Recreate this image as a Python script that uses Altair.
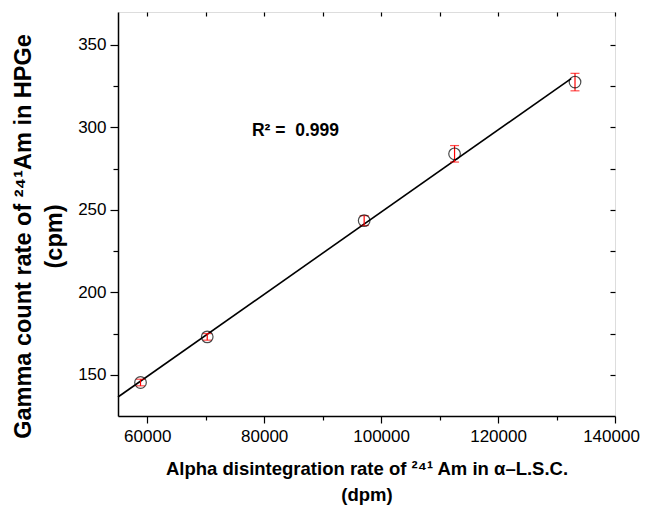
import altair as alt
import pandas as pd

dpm = [58850, 70260, 97100, 112560, 133160]
cpm = [145.3, 173.0, 243.5, 284.0, 327.5]
err = [2.0, 2.0, 3.0, 5.0, 5.3]

r2_label = ["R² =\u00a0\u00a00.999"]
r2_x = [77900]
r2_y = [294.5]

x_ticks = [60000, 70000, 80000, 90000, 100000, 110000, 120000, 130000, 140000]
y_ticks = [150, 175, 200, 225, 250, 275, 300, 325, 350]

df = pd.DataFrame({"dpm": dpm, "cpm": cpm, "err": err})
df["lo"] = df["cpm"] - df["err"]
df["hi"] = df["cpm"] + df["err"]
txt = pd.DataFrame({"dpm": r2_x, "cpm": r2_y, "label": r2_label})

FONT = "Liberation Sans"
xs = alt.Scale(domain=[55000, 140000], nice=False, zero=False)
ys = alt.Scale(domain=[125, 370], nice=False, zero=False)

base = alt.Chart(df)

line = base.transform_regression("dpm", "cpm", extent=[55000, 132500]).mark_line(
    color="black", strokeWidth=1.6
).encode(
    x=alt.X("dpm:Q", scale=xs, axis=alt.Axis(
        orient="bottom", values=x_ticks, format="d",
        labelExpr="datum.value % 20000 == 0 ? datum.label : ''",
        labelOverlap=False, labelFlush=False,
        labelOffset={"condition": {"test": "datum.value == 140000", "value": -4}, "value": 0},
        tickSize={"condition": {"test": "datum.value % 20000 == 0", "value": 7}, "value": 4},
        title=["Alpha disintegration rate of ²⁴¹ Am in α–L.S.C.", "(dpm)"],
        titleFontSize=18.5, titleFontWeight="bold", titleFont=FONT, titleLineHeight=26,
        titlePadding=15, labelFontSize=17, labelFont=FONT, labelPadding=5,
        grid=False, domainColor="black", tickColor="black", domainWidth=1.5, tickWidth=1.2,
        labelColor="black", titleColor="black")),
    y=alt.Y("cpm:Q", scale=ys, axis=alt.Axis(
        orient="left", values=y_ticks, format="d",
        labelExpr="datum.value % 50 == 0 ? datum.label : ''",
        labelOverlap=False, labelFlush=False,
        tickSize={"condition": {"test": "datum.value % 50 == 0", "value": 8}, "value": 5},
        title=["Gamma count rate of ²⁴¹Am in HPGe", "(cpm)"],
        titleFontSize=23.5, titleFontWeight="bold", titleFont=FONT, titleLineHeight=31,
        titlePadding=11, titleY=224, labelFontSize=17, labelFont=FONT, labelPadding=4,
        grid=False, domainColor="black", tickColor="black", domainWidth=1.5, tickWidth=1.2,
        labelColor="black", titleColor="black")),
)

bars = base.mark_errorbar(ticks={"size": 9, "color": "red", "thickness": 1.2}, color="red", thickness=1.2).encode(
    x=alt.X("dpm:Q", scale=xs, axis=None),
    y=alt.Y("lo:Q", scale=ys, axis=None, title=None),
    y2="hi:Q",
)

pts = base.mark_point(shape="circle", filled=False, size=135, color="black", strokeWidth=1.2).encode(
    x=alt.X("dpm:Q", scale=xs, axis=alt.Axis(
        orient="top", values=x_ticks, labels=False, domain=False, title=None,
        tickSize=4, offset=-4, grid=False, tickColor="black", tickWidth=1.2)),
    y=alt.Y("cpm:Q", scale=ys, axis=alt.Axis(
        orient="right", values=y_ticks, labels=False, domain=False, title=None,
        tickSize=5, offset=-5, grid=False, tickColor="black", tickWidth=1.2)),
)

label = alt.Chart(txt).mark_text(
    align="left", baseline="alphabetic", fontSize=17.5, fontWeight="bold", font=FONT, color="black"
).encode(
    x=alt.X("dpm:Q", scale=xs, axis=None),
    y=alt.Y("cpm:Q", scale=ys, axis=None),
    text="label:N",
)

chart = alt.layer(line, bars, pts, label).resolve_axis(
    x="independent", y="independent"
).properties(
    width=497, height=404,
    autosize=alt.AutoSizeParams(type="none"),
    padding={"left": 110, "top": 4, "right": 26, "bottom": 89},
).configure_view(
    stroke="black", strokeWidth=1.5
).configure(background="white")

chart.save("out.html", embed_options={"renderer": "svg", "actions": False})
